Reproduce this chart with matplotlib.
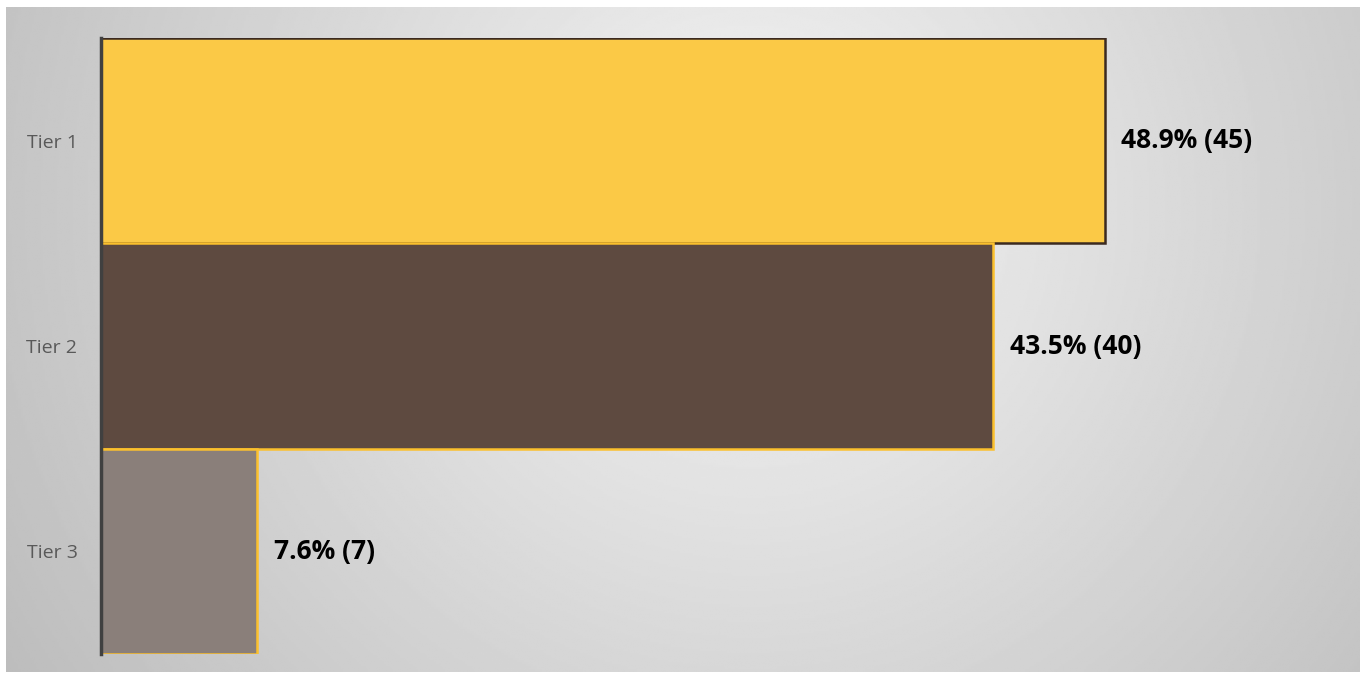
import matplotlib.pyplot as plt
import numpy as np

tiers = ["Tier 1", "Tier 2", "Tier 3"]
counts = [45, 40, 7]
percents = [48.9, 43.5, 7.6]
bar_colors = ["#FBC946", "#5E4A40", "#8A7F7A"]
edge_colors = ["#3B2A20", "#FBC02D", "#FBC02D"]

plt.rcParams['font.family'] = ['Open Sans', 'DejaVu Sans']

fig = plt.figure(figsize=(13.65, 6.76), dpi=100)
fig.patch.set_facecolor("white")

# radial grey background like the office chart area
bg = fig.add_axes([6 / 1365, 4 / 676, 1354 / 1365, 665 / 676])
yy, xx = np.mgrid[0:1:300j, 0:1:600j]
r = np.sqrt((xx - 0.55) ** 2 + ((yy - 0.70) * 0.49) ** 2)
shade = 0.96 - 0.34 * r
bg.imshow(shade, cmap="gray", vmin=0, vmax=1, aspect="auto", origin="lower",
          extent=[0, 1, 0, 1])
bg.set_axis_off()

ax = fig.add_axes([101 / 1365, 1 - 654 / 676, 1240 / 1365, 616 / 676])
ax.patch.set_alpha(0)
y = np.arange(len(tiers))
ax.barh(y, counts, height=1.0, color=bar_colors, edgecolor=edge_colors, linewidth=1.8)
ax.set_ylim(2.5, -0.5)
ax.set_xlim(0, 55.6)

for i in range(len(tiers)):
    ax.annotate(f"{percents[i]}% ({counts[i]})", (counts[i], y[i]),
                xytext=(12, 0), textcoords="offset points", va="center", ha="left",
                fontsize=19, fontweight="bold", color="black")

ax.set_yticks(y)
ax.set_yticklabels(tiers, fontsize=14, color="#595959")
ax.tick_params(axis="y", length=0, pad=17)
ax.set_xticks([])
for side in ["top", "right", "bottom"]:
    ax.spines[side].set_visible(False)
ax.spines["left"].set_color("#404040")
ax.spines["left"].set_linewidth(2.5)
ax.spines["left"].set_zorder(5)

fig.savefig("out.png", dpi=100)
